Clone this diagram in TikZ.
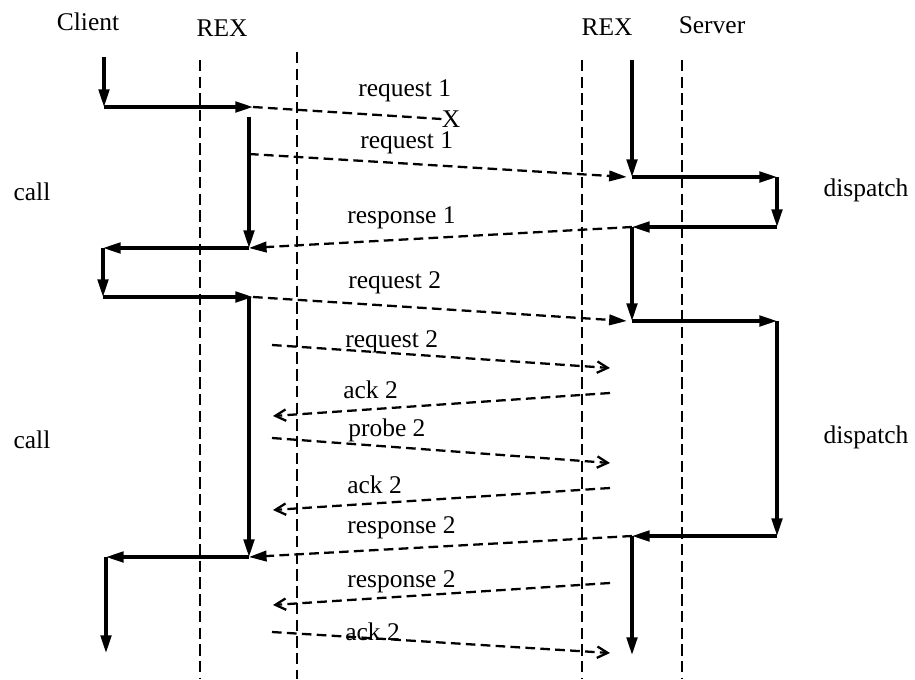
\documentclass[tikz,border=0pt]{standalone}
\usepackage{fontspec}
\setmainfont{Liberation Serif}
\usepackage{tikz}
\usetikzlibrary{arrows.meta,positioning}

\tikzset{
	life/.style={line width=1.3pt, dash pattern=on 6.5pt off 3pt},
	flow/.style={line width=1.8pt, -{Triangle[length=10pt,width=6pt]}},
	msg/.style={line width=1.3pt, dash pattern=on 5.5pt off 3pt, -{Triangle[length=10pt,width=6pt]}},
	retx/.style={line width=1.3pt, dash pattern=on 5.5pt off 3pt, -{Straight Barb[length=6pt,width=6.5pt]}},
	lbl/.style={font=\fontsize{14.5}{17}\selectfont, inner sep=0pt},
	mlbl/.style={lbl, anchor=west},
}

\begin{document}
\begin{tikzpicture}[x=0.02cm,y=-0.02cm]
		\useasboundingbox (0,0) rectangle (915,679);
		% headings and side notes
		\node[lbl] (client) at (88,22) {Client};
		\node[lbl] (rexA) at (222,28) {REX};
		\node[lbl] (rexB) at (607,27) {REX};
		\node[lbl] (server) at (712,25) {Server};
		\node[lbl] (call1) at (32,192) {call};
		\node[lbl] (call2) at (32,440) {call};
		\node[lbl] (disp1) at (866,190) {dispatch};
		\node[lbl] (disp2) at (866,437) {dispatch};
		% dashed boundaries
		\foreach \x/\y in {200/60, 297/52, 582/60, 682/60}
			\draw[life] (\x,\y) -- (\x,679);
		% client thread
		\coordinate (c0) at (104,57);
		\coordinate (c1) at (104,107);
		\coordinate (c2) at (253,107);
		\coordinate (c3) at (103,248);
		\coordinate (c4) at (103,297);
		\coordinate (c5) at (253,297);
		\coordinate (c6) at (106,557);
		\coordinate (c7) at (106,653);
		% client REX
		\coordinate (a0) at (249,117);
		\coordinate (a1) at (249,248);
		\coordinate (a2) at (249,297);
		\coordinate (a3) at (249,557);
		% server REX and server thread
		\coordinate (s0) at (632,60);
		\coordinate (s1) at (632,177);
		\coordinate (s2) at (632,227);
		\coordinate (s3) at (632,321);
		\coordinate (s4) at (632,536);
		\coordinate (s5) at (632,655);
		\coordinate (d0) at (777,177);
		\coordinate (d1) at (777,227);
		\coordinate (d2) at (777,321);
		\coordinate (d3) at (777,536);
		\draw[flow] (c0) -- (c1);
		\draw[flow] (c1) -- (c2);
		\draw[flow] (a0) -- (a1);
		\draw[flow] (a1) -- (c3);
		\draw[flow] (c3) -- (c4);
		\draw[flow] (c4) -- (c5);
		\draw[flow] (a2) -- (a3);
		\draw[flow] (a3) -- (c6);
		\draw[flow] (c6) -- (c7);
		\draw[flow] (s0) -- (s1);
		\draw[flow] (s1) -- (d0);
		\draw[flow] (d0) -- (d1);
		\draw[flow] (d1) -- (s2);
		\draw[flow] (s2) -- (s3);
		\draw[flow] (s3) -- (d2);
		\draw[flow] (d2) -- (d3);
		\draw[flow] (d3) -- (s4);
		\draw[flow] (s4) -- (s5);
		% messages between the REX layers
		\node[lbl] (lost) at (451,119) {X};
		\draw[line width=1.3pt, dash pattern=on 5.5pt off 3pt] (c2) -- (lost.west);
		\node[mlbl] (m1) at (358,91) {request 1};
		\coordinate (r1) at (249,154);
		\draw[msg] (r1) -- ([xshift=-3pt]s1);
		\node[mlbl] (m2) at (360,143) {request 1};
		\draw[msg] (s2) -- (a1);
		\node[mlbl] (m3) at (347,218) {response 1};
		\draw[msg] (c5) -- ([xshift=-3pt]s3);
		\node[mlbl] (m4) at (348,283) {request 2};
		\coordinate (p0) at (272,345);
		\coordinate (q0) at (610,368);
		\draw[retx] (p0) -- (q0);
		\node[mlbl] (m5) at (345,342) {request 2};
		\coordinate (q1) at (610,393);
		\coordinate (p1) at (273,416);
		\draw[retx] (q1) -- (p1);
		\node[mlbl] (m6) at (343,390) {ack 2};
		\coordinate (p2) at (272,438);
		\coordinate (q2) at (610,463);
		\draw[retx] (p2) -- (q2);
		\node[mlbl] (m7) at (348,430) {probe 2};
		\coordinate (q3) at (610,488);
		\coordinate (p3) at (273,510);
		\draw[retx] (q3) -- (p3);
		\node[mlbl] (m8) at (347,485) {ack 2};
		\draw[msg] (s4) -- (a3);
		\node[mlbl] (m9) at (347,528) {response 2};
		\coordinate (q4) at (610,583);
		\coordinate (p4) at (273,605);
		\draw[retx] (q4) -- (p4);
		\node[mlbl] (m10) at (347,582) {response 2};
		\coordinate (p5) at (272,632);
		\coordinate (q5) at (610,653);
		\draw[retx] (p5) -- (q5);
		\node[mlbl] (m11) at (345,632) {ack 2};
\end{tikzpicture}
\end{document}
